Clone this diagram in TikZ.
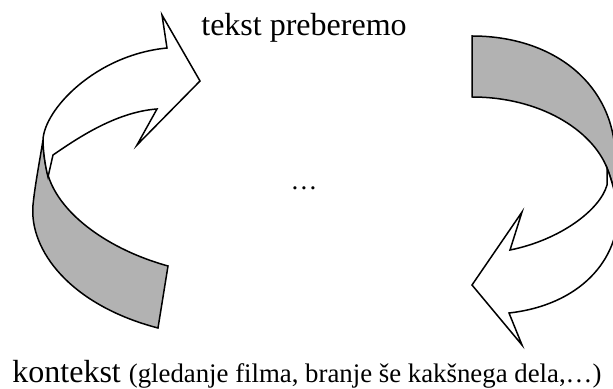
\documentclass[tikz,border=0pt]{standalone}
\usepackage{fontspec}
\setmainfont{Liberation Serif}
\usepackage{tikz}
\tikzset{%
  myback/.style={draw=black, fill=black!30, line width=0.75pt},
  myfront/.style={draw=black, fill=white, line width=0.75pt},
  mylabel/.style={inner sep=0pt, font=\fontsize{16}{19}\selectfont},
  mysmall/.style={inner sep=0pt, font=\fontsize{13.4}{16}\selectfont}
}

\begin{document}
\begin{tikzpicture}[x=0.5pt, y=-0.5pt]
  \useasboundingbox (0,0) rectangle (613,389);
  \clip (0,0) rectangle (613,389);
  \filldraw[myback] (43,140) .. controls (39,165) and (35,185) .. (33,205)
    .. controls (29,250) and (70,305) .. (158,328) -- (168,266)
    .. controls (110,250) and (60,215) .. (48,175)
    .. controls (45,165) and (43,150) .. cycle;
  \filldraw[myfront] (43,140) .. controls (44,110) and (95,55) .. (167,48)
    -- (162,15) -- (200,81) -- (137,145) -- (157,109)
    .. controls (115,112) and (75,140) .. (53,155) -- (48,177)
    .. controls (45,165) and (43,150) .. cycle;
  \filldraw[myback] (472,36) .. controls (550,36) and (610,80) .. (615,150)
    .. controls (618,175) and (619,195) .. (618,210)
    .. controls (616,195) and (611,178) .. (607,168)
    .. controls (592,130) and (540,97) .. (472,97) -- cycle;
  \filldraw[myfront] (607,168) .. controls (611,178) and (616,195) .. (618,210)
    .. controls (619,260) and (580,305) .. (509,313)
    -- (522,345) -- (472,285) -- (522,212) -- (510,250)
    .. controls (560,240) and (600,210) .. (607,185) -- cycle;
  \node[mylabel, anchor=base] (top) at (304,35.5) {tekst preberemo};
  \node[mysmall, anchor=base] (dots) at (304,190) {…};
  \node[mylabel, anchor=base west] (ctx) at (12,382) {kontekst {\fontsize{13.4}{16}\selectfont (gledanje filma, branje še kakšnega dela,…)}};
\end{tikzpicture}
\end{document}
